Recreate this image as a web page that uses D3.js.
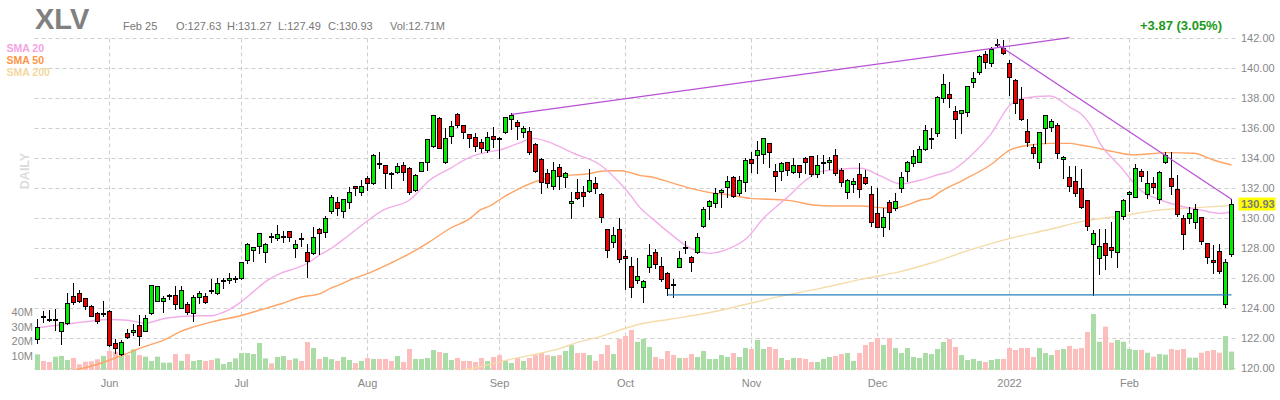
<!DOCTYPE html>
<html>
<head>
<meta charset="utf-8" />
<script src="https://cdn.jsdelivr.net/npm/d3@7"></script>
<style>
  body { margin: 0; background: #fff; }
  svg text { font-family: "Liberation Sans", Arial, sans-serif; }
</style>
</head>
<body>
<div id="chart"></div>
<script>
// XLV daily candles, 2021-05-13 .. 2022-02-25
const symbol = "XLV";
const firstDay = "2021-05-13";
const lastDay = "2022-02-25";
const holidays = ["2021-05-31", "2021-07-05", "2021-09-06", "2021-11-25", "2021-12-24", "2022-01-17", "2022-02-21"];

const opens = [
  121.93, 123.47, 123.27, 123.20, 122.47, 123.00, 124.80, 125.00, 124.67, 124.12,
  123.69, 123.58, 123.80, 121.70, 120.97, 122.34, 122.39, 122.87, 122.47, 123.67,
  124.51, 124.45, 124.76, 124.89, 124.03, 124.29, 123.66, 124.77, 124.81, 125.19,
  125.04, 125.80, 125.88, 125.90, 125.99, 127.21, 127.88, 128.16, 127.76, 128.74,
  128.65, 128.74, 129.14, 127.99, 128.60, 127.72, 127.65, 129.29, 129.09, 130.49,
  131.09, 130.45, 131.05, 132.11, 131.76, 132.64, 132.36, 133.64, 133.53, 132.97,
  133.09, 133.53, 133.31, 131.87, 133.16, 133.71, 134.82, 136.64, 133.75, 135.46,
  136.90, 136.17, 135.57, 135.37, 135.08, 134.53, 135.46, 135.28, 135.75, 136.57,
  136.37, 135.75, 135.79, 134.93, 133.90, 132.98, 132.13, 133.37, 132.71, 130.98,
  131.71, 131.71, 131.82, 132.31, 131.58, 129.25, 128.39, 129.25, 127.48, 126.81,
  125.88, 125.39, 126.72, 127.72, 126.81, 126.32, 125.57, 126.77, 128.01, 127.43,
  127.72, 129.49, 130.82, 130.98, 131.71, 132.09, 132.71, 131.65, 132.38, 133.91,
  134.20, 134.26, 134.97, 133.13, 133.13, 133.71, 133.09, 133.53, 133.97, 134.13,
  132.91, 133.67, 133.75, 134.20, 133.20, 131.76, 132.24, 132.93, 132.71, 131.60,
  130.31, 129.43, 131.05, 130.69, 131.98, 133.15, 133.64, 133.75, 134.57, 135.26,
  135.64, 138.01, 138.23, 137.12, 136.97, 137.08, 139.07, 139.74, 140.89, 140.29,
  141.47, 141.34, 140.29, 139.19, 137.92, 135.79, 134.75, 133.70, 135.97, 136.04,
  136.19, 133.91, 132.75, 132.47, 131.98, 131.20, 128.25, 127.32, 128.36, 128.10,
  127.72, 130.16, 131.58, 131.42, 133.15, 131.60, 132.31, 131.27, 133.75, 132.64,
  131.91, 129.98, 129.98, 129.72, 130.05, 128.32, 127.21, 127.81, 124.26, 127.63
];
const highs = [
  123.26, 123.78, 123.89, 123.92, 123.10, 125.00, 125.69, 125.18, 124.70, 124.20,
  123.75, 124.51, 123.85, 121.96, 121.90, 122.63, 122.92, 123.56, 123.52, 125.56,
  125.50, 124.80, 124.96, 125.45, 125.45, 124.40, 124.88, 125.17, 124.99, 125.92,
  125.99, 125.99, 126.32, 126.14, 127.10, 128.32, 128.10, 128.98, 128.32, 129.03,
  129.54, 129.14, 129.16, 128.54, 128.98, 128.25, 129.43, 129.31, 130.14, 131.53,
  131.42, 131.27, 132.04, 132.13, 132.53, 132.80, 134.24, 134.42, 133.55, 133.09,
  133.69, 133.75, 133.42, 132.93, 133.75, 135.26, 136.88, 136.70, 135.97, 136.46,
  137.01, 136.20, 135.60, 135.64, 135.24, 135.75, 136.04, 135.37, 136.72, 136.97,
  136.52, 136.13, 136.04, 134.97, 133.97, 133.24, 133.75, 133.60, 133.09, 131.76,
  132.60, 132.13, 133.24, 132.71, 131.64, 129.25, 129.38, 129.98, 127.87, 127.39,
  127.32, 125.88, 128.27, 127.94, 127.43, 126.39, 125.92, 127.81, 128.47, 127.45,
  128.98, 130.71, 131.20, 131.98, 131.93, 132.80, 132.80, 132.80, 134.02, 134.42,
  135.13, 135.32, 135.01, 133.60, 133.75, 133.75, 133.97, 133.55, 134.04, 134.15,
  134.20, 134.20, 134.08, 134.59, 133.31, 132.58, 132.64, 133.69, 133.20, 132.15,
  131.98, 130.65, 131.20, 131.65, 133.09, 133.82, 134.53, 134.79, 136.19, 136.00,
  138.12, 139.58, 139.03, 137.46, 137.19, 138.80, 139.70, 140.85, 141.11, 141.40,
  141.89, 141.85, 140.52, 139.23, 138.70, 136.59, 134.93, 135.72, 136.85, 136.59,
  136.30, 134.13, 133.46, 133.49, 133.26, 131.22, 129.21, 129.25, 129.25, 129.76,
  130.48, 131.27, 131.80, 133.60, 133.26, 133.15, 132.71, 133.15, 134.37, 134.42,
  132.86, 130.20, 130.76, 130.91, 130.09, 128.34, 128.21, 128.25, 127.27, 131.27
];
const lows = [
  121.70, 123.05, 123.16, 122.52, 121.59, 122.95, 124.29, 124.40, 123.96, 123.45,
  123.03, 123.47, 121.50, 121.03, 120.86, 122.03, 122.19, 121.57, 122.45, 123.63,
  124.50, 123.74, 124.63, 123.92, 124.00, 123.63, 123.17, 124.37, 124.37, 125.04,
  124.95, 125.37, 125.70, 125.77, 125.92, 126.99, 127.16, 127.70, 127.10, 128.43,
  128.54, 128.43, 128.50, 127.43, 128.14, 126.10, 127.63, 127.59, 128.76, 130.36,
  130.20, 130.09, 130.69, 131.53, 131.53, 131.87, 132.27, 133.35, 131.98, 131.98,
  132.98, 132.53, 131.60, 131.82, 133.14, 133.20, 134.71, 134.64, 133.69, 134.97,
  136.08, 135.30, 134.75, 134.48, 134.37, 134.42, 134.75, 133.97, 135.64, 135.90,
  135.24, 135.42, 134.26, 133.09, 131.69, 132.09, 131.91, 131.91, 132.04, 129.98,
  131.27, 130.80, 131.76, 131.69, 129.76, 127.39, 128.10, 127.10, 125.26, 124.73,
  125.66, 124.44, 126.43, 126.65, 125.83, 124.88, 124.72, 126.75, 127.70, 126.50,
  127.70, 129.38, 129.92, 130.76, 130.71, 131.38, 131.38, 131.53, 131.82, 133.04,
  132.97, 133.69, 133.42, 131.82, 132.53, 132.86, 133.02, 132.75, 133.02, 132.82,
  132.71, 133.02, 133.24, 132.86, 132.15, 131.36, 131.76, 131.42, 132.24, 129.49,
  129.43, 128.83, 129.27, 130.54, 131.76, 132.47, 133.49, 133.71, 134.53, 134.64,
  135.48, 137.74, 137.41, 135.35, 135.68, 136.79, 138.70, 139.58, 139.96, 140.14,
  141.36, 140.89, 138.19, 137.01, 136.50, 134.82, 134.02, 133.35, 135.01, 135.81,
  134.02, 132.64, 131.82, 131.49, 130.69, 129.21, 124.88, 126.26, 126.59, 127.43,
  126.77, 129.92, 130.49, 131.40, 132.49, 131.31, 131.64, 130.98, 133.64, 131.60,
  130.14, 127.92, 129.65, 129.36, 128.25, 127.03, 126.32, 126.37, 124.06, 127.49
];
const closes = [
  122.77, 123.42, 123.22, 123.25, 123.07, 124.34, 124.40, 124.47, 124.12, 123.47,
  123.12, 123.62, 121.57, 121.34, 121.74, 122.05, 122.56, 122.18, 123.36, 125.51,
  125.47, 124.69, 124.80, 124.25, 125.22, 123.74, 124.73, 124.99, 124.44, 125.15,
  125.66, 125.86, 125.99, 125.94, 127.05, 128.25, 128.10, 128.98, 128.25, 128.70,
  128.92, 128.78, 128.72, 128.25, 128.56, 127.16, 128.76, 128.98, 129.98, 131.42,
  130.65, 131.25, 131.71, 131.98, 132.11, 132.31, 134.20, 133.60, 133.02, 132.93,
  133.46, 133.09, 131.76, 132.87, 133.71, 135.24, 136.86, 134.68, 135.30, 136.13,
  136.17, 135.70, 135.30, 134.80, 134.64, 135.37, 135.24, 135.24, 136.70, 136.86,
  136.10, 135.97, 134.37, 133.15, 132.42, 132.31, 133.20, 132.82, 132.98, 131.11,
  131.31, 131.49, 132.53, 131.98, 130.05, 127.87, 128.87, 127.26, 127.32, 125.39,
  126.14, 125.83, 127.54, 126.94, 125.92, 125.32, 125.53, 127.32, 127.97, 127.05,
  128.72, 130.58, 131.13, 131.65, 131.87, 132.47, 131.47, 132.53, 133.86, 133.64,
  134.53, 135.30, 134.37, 132.82, 133.64, 133.20, 133.53, 133.09, 133.75, 132.93,
  133.53, 133.71, 133.86, 132.98, 132.38, 132.53, 132.47, 131.91, 132.35, 129.72,
  129.43, 130.09, 130.38, 131.13, 132.75, 133.75, 134.13, 134.57, 135.86, 135.30,
  138.08, 138.90, 137.97, 136.57, 137.17, 138.79, 139.30, 140.78, 140.36, 141.25,
  141.51, 140.96, 139.41, 137.63, 136.59, 135.04, 134.31, 135.70, 136.83, 136.46,
  134.31, 134.04, 132.15, 131.64, 130.76, 129.45, 128.98, 128.16, 127.54, 127.87,
  130.47, 131.18, 131.71, 133.31, 132.80, 132.31, 132.04, 133.09, 134.20, 132.13,
  130.27, 128.92, 130.31, 130.60, 128.47, 127.43, 127.05, 126.50, 127.06, 130.93
];
// volume in millions of shares
const volumes = [
  10.8, 6.2, 5.5, 9.2, 9.7, 6.9, 8.3, 3.9, 5.7, 6.0,
  7.4, 9.7, 13.3, 12.6, 13.3, 10.3, 14.3, 10.3, 9.2, 6.2,
  9.2, 5.1, 5.1, 11.0, 6.3, 11.0, 6.2, 6.9, 6.2, 6.9,
  8.0, 4.1, 5.5, 8.0, 11.7, 11.7, 11.0, 18.6, 8.0, 4.6,
  9.0, 9.7, 6.9, 8.0, 6.2, 19.3, 15.2, 7.6, 9.0, 7.5,
  6.2, 9.0, 6.9, 4.8, 6.2, 8.3, 7.6, 7.6, 7.6, 6.2,
  9.7, 5.5, 14.5, 7.6, 7.6, 8.3, 13.8, 12.4, 11.7, 6.9,
  8.3, 6.2, 6.2, 5.5, 8.3, 6.2, 9.0, 10.3, 6.2, 4.8,
  8.3, 6.2, 8.3, 10.3, 11.7, 10.3, 9.7, 10.3, 13.1, 17.2,
  11.7, 11.7, 10.3, 6.2, 11.0, 17.2, 11.0, 21.4, 23.4, 27.6,
  19.4, 21.4, 15.9, 9.0, 7.6, 13.1, 10.3, 8.3, 8.3, 11.0,
  9.0, 13.1, 7.6, 7.6, 10.3, 9.0, 11.7, 9.0, 15.2, 14.5,
  20.7, 14.5, 15.9, 14.5, 8.3, 6.9, 8.3, 8.3, 7.6, 5.5,
  5.5, 7.6, 9.0, 9.7, 11.0, 11.7, 6.2, 11.7, 17.2, 19.3,
  22.1, 17.2, 22.1, 15.2, 11.7, 15.2, 9.0, 8.3, 11.7, 11.0,
  14.5, 19.3, 21.4, 15.9, 10.3, 6.9, 7.6, 6.2, 5.5, 6.9,
  7.6, 7.6, 15.2, 13.8, 15.2, 15.2, 9.0, 15.2, 11.7, 10.3,
  13.8, 14.5, 16.6, 14.5, 15.1, 26.3, 38.6, 19.5, 29.9, 18.9,
  20.7, 19.5, 14.5, 13.8, 13.8, 11.9, 9.2, 11.0, 10.6, 14.5,
  13.8, 14.5, 8.5, 8.5, 11.9, 13.1, 13.8, 11.9, 23.4, 12.71
];

// moving averages: [candle index, value]
const sma20 = [
  [0, 122.7], [4, 122.9], [8, 123.1], [12, 123.25], [15, 123.2], [18, 123.0], [21, 123.3],
  [24, 123.45], [27, 123.5], [29, 123.5], [31, 123.73], [34, 124.44], [36, 125.1],
  [38, 125.77], [40.5, 126.32], [43, 126.65], [45, 126.99], [47, 127.54], [49, 127.99],
  [51, 128.58], [53, 129.2], [57.7, 130.54], [62, 131.2], [65.4, 132.53], [68.8, 133.31],
  [72, 134.04], [75.4, 134.42], [77, 134.53], [80, 134.95], [82.7, 135.3], [85, 135.08],
  [89.3, 134.31], [93.8, 133.53], [97.1, 132.31], [98.8, 131.53], [100.5, 130.65],
  [102.1, 130.09], [105.4, 128.98], [108.8, 127.99], [112.1, 127.65], [115.4, 127.99],
  [118.2, 128.65], [121, 129.98], [123.8, 130.98], [125.4, 131.53], [127.1, 132.2],
  [130.5, 133.09], [133.3, 133.24], [137.2, 133.31], [140.5, 132.8], [143.8, 132.27],
  [147.2, 132.53], [150.5, 132.93], [152.1, 133.09], [155.4, 134.08], [158.8, 135.53],
  [162.1, 137.52], [164.3, 137.97], [168.8, 138.12], [172.1, 137.37], [173.8, 136.97],
  [175.5, 136.19], [177.1, 134.97], [180.5, 133.42], [183.8, 131.87], [187.2, 131.2],
  [190.5, 130.8], [193.8, 130.54], [197.2, 130.31], [199, 130.42]
];
const sma50 = [
  [6.5, 119.9], [10.3, 120.3], [14.3, 120.9], [17.6, 121.41], [21.5, 121.96], [23.8, 122.44],
  [25.9, 122.74], [29.3, 123.11], [33.8, 123.5], [37.1, 123.88], [40.5, 124.28],
  [43.8, 124.73], [47.2, 124.99], [48.8, 125.32], [50.5, 125.59], [52.1, 125.88],
  [55.4, 126.37], [58.8, 126.99], [62.1, 127.65], [65.4, 128.43], [68.8, 129.32],
  [72.1, 129.98], [73.8, 130.54], [75.4, 130.8], [77.1, 131.25], [80.4, 131.98],
  [83.8, 132.53], [87.1, 132.8], [91.5, 132.93], [94.8, 133.15], [97.1, 133.15],
  [98.8, 133.02], [100.5, 132.82], [102.1, 132.75], [106, 132.31], [109.9, 131.87],
  [112.1, 131.69], [115.4, 131.53], [118.8, 131.31], [122.1, 131.25], [125.4, 131.16],
  [129.3, 130.87], [132.7, 130.8], [137.2, 130.8], [140.5, 130.69], [142.7, 130.65],
  [145, 130.87], [147.2, 131.2], [148.8, 131.31], [150.5, 131.76], [154.3, 132.53],
  [158.8, 133.53], [162.1, 134.53], [165.4, 134.86], [168.8, 134.97], [172.1, 134.97],
  [173.8, 134.86], [175.5, 134.75], [179.3, 134.42], [182.7, 134.2], [188.2, 134.35],
  [192.7, 134.31], [196, 133.86], [199, 133.53]
];
const sma200 = [
  [70, 119.8], [73.8, 120.1], [77.1, 120.44], [80.4, 120.73], [83.8, 121.0], [87.1, 121.33],
  [90.4, 121.77], [93.8, 122.11], [97.1, 122.55], [100.5, 122.95], [105.4, 123.26],
  [112.1, 123.71], [118.8, 124.33], [124, 124.8], [130.5, 125.32], [137.2, 125.92],
  [143.8, 126.43], [148.8, 126.99], [155.4, 127.88], [162.1, 128.65], [168.8, 129.25],
  [174, 129.76], [180.5, 130.14], [187.2, 130.54], [193.8, 130.71], [199, 130.83]
];

// drawn annotation lines: [candle index, price]
const resistanceUp = [[79, 136.9], [172, 142.0]];
const resistanceDown = [[160, 141.55], [199, 131.25]];
const supportLine = [[105, 124.88], [199, 124.88]];

const priceTicks = d3.range(120, 142.01, 2);
const volumeTicks = [10, 20, 30, 40];
const legendItems = [
  { label: "SMA 20", color: "#f5a3e3" },
  { label: "SMA 50", color: "#ff9548" },
  { label: "SMA 200", color: "#f3d8a0" },
];
const lineColors = { sma20: "#f2aee8", sma50: "#fea466", sma200: "#f5dcaa" };

function tradingDays(from, to, skip) {
  const out = [];
  const end = new Date(to + "T00:00:00Z");
  for (let d = new Date(from + "T00:00:00Z"); d <= end; d.setUTCDate(d.getUTCDate() + 1)) {
    const key = d.toISOString().slice(0, 10);
    const wd = d.getUTCDay();
    if (wd !== 0 && wd !== 6 && !skip.includes(key)) out.push(key);
  }
  return out;
}

const dates = tradingDays(firstDay, lastDay, holidays);
const candles = dates.map((d, i) => ({
  date: d,
  index: i,
  open: opens[i],
  high: highs[i],
  low: lows[i],
  close: closes[i],
  volume: volumes[i],
}));

class CandleChart {
  constructor(_config) {
    this.config = {
      parentElement: _config.parentElement,
      width: 1280,
      height: 400,
      left: 34.5,
      right: 1236,
      top: 37.7,
      priceBottom: 368.3,
      bottom: 370,
    };
    this.data = _config.data;
    this.initVis();
  }

  initVis() {
    const vis = this;
    const c = vis.config;

    vis.svg = d3
      .select(c.parentElement)
      .append("svg")
      .attr("width", c.width)
      .attr("height", c.height);

    vis.x = d3
      .scaleBand()
      .domain(dates)
      .range([c.left, c.left + 6 * dates.length]);
    const half = vis.x.bandwidth() / 2;
    // fractional candle index -> x, for the overlay lines
    vis.xi = d3
      .scaleLinear()
      .domain([0, dates.length - 1])
      .range([vis.x(dates[0]) + half, vis.x(dates[dates.length - 1]) + half]);

    vis.y = d3.scaleLinear().domain([120, 142]).range([c.priceBottom, c.top]);
    vis.yVol = d3.scaleLinear().domain([0, 40]).range([c.bottom, c.bottom - 58]);

    vis.svg
      .append("clipPath")
      .attr("id", "plot-clip")
      .append("rect")
      .attr("x", c.left)
      .attr("y", c.top - 1)
      .attr("width", c.right - c.left)
      .attr("height", c.bottom - c.top + 1);

    vis.gridG = vis.svg.append("g").attr("class", "grid");
    vis.volG = vis.svg.append("g").attr("class", "volume");
    vis.smaG = vis.svg.append("g").attr("clip-path", "url(#plot-clip)");
    vis.candleG = vis.svg.append("g").attr("class", "candles");
    vis.trendG = vis.svg.append("g").attr("clip-path", "url(#plot-clip)");
    vis.labelG = vis.svg.append("g");

    this.updateVis();
  }

  updateVis() {
    const vis = this;
    const c = vis.config;
    const half = vis.x.bandwidth() / 2;
    const cx = (d) => vis.x(d.date) + half;
    const snap = (v) => Math.round(v) + 0.5;

    // first trading day of each month
    const monthStarts = dates.filter(
      (d, i) => i > 0 && d.slice(5, 7) !== dates[i - 1].slice(5, 7)
    );
    const parse = d3.timeParse("%Y-%m-%d");
    const monthLabel = (d) => {
      const t = parse(d);
      return t.getMonth() === 0 ? d3.timeFormat("%Y")(t) : d3.timeFormat("%b")(t);
    };

    // grid
    vis.gridG
      .selectAll("line.h")
      .data(priceTicks)
      .join("line")
      .attr("class", "h")
      .attr("x1", c.left)
      .attr("x2", c.right)
      .attr("y1", (d) => snap(vis.y(d)))
      .attr("y2", (d) => snap(vis.y(d)));
    vis.gridG
      .selectAll("line.v")
      .data(monthStarts)
      .join("line")
      .attr("class", "v")
      .attr("x1", (d) => vis.x(d) + half)
      .attr("x2", (d) => vis.x(d) + half)
      .attr("y1", snap(c.top))
      .attr("y2", c.bottom);
    vis.gridG
      .selectAll("line")
      .attr("stroke", "#cfcfcf")
      .attr("stroke-width", 1)
      .attr("stroke-dasharray", "4,3");

    // volume bars
    vis.volG
      .selectAll("rect")
      .data(vis.data)
      .join("rect")
      .attr("x", (d) => cx(d) - 2.5)
      .attr("width", 5)
      .attr("y", (d) => vis.yVol(d.volume))
      .attr("height", (d) => c.bottom - vis.yVol(d.volume))
      .attr("fill", (d) => (d.close >= d.open ? "#aadca5" : "#fcbdbd"));

    // moving averages
    const smaLine = d3
      .line()
      .x((d) => vis.xi(d[0]))
      .y((d) => vis.y(d[1]))
      .curve(d3.curveMonotoneX);
    vis.smaG
      .selectAll("path")
      .data([
        { key: "sma200", pts: sma200 },
        { key: "sma50", pts: sma50 },
        { key: "sma20", pts: sma20 },
      ])
      .join("path")
      .attr("d", (d) => smaLine(d.pts))
      .attr("fill", "none")
      .attr("stroke", (d) => lineColors[d.key])
      .attr("stroke-width", 1.4);

    // candles
    const g = vis.candleG
      .selectAll("g.candle")
      .data(vis.data)
      .join("g")
      .attr("class", "candle");
    g.append("line")
      .attr("x1", cx)
      .attr("x2", cx)
      .attr("y1", (d) => Math.round(vis.y(d.high)))
      .attr("y2", (d) => Math.round(vis.y(d.low)) + 1)
      .attr("stroke", "#000")
      .attr("stroke-width", 1);
    g.each(function (d) {
      const top = snap(vis.y(Math.max(d.open, d.close)));
      const bot = snap(vis.y(Math.min(d.open, d.close)));
      const sel = d3.select(this);
      if (bot - top < 1.5) {
        // doji: flat black tick
        const yy = Math.round(vis.y((d.open + d.close) / 2));
        sel
          .append("line")
          .attr("x1", cx(d) - 2.5)
          .attr("x2", cx(d) + 2.5)
          .attr("y1", yy)
          .attr("y2", yy)
          .attr("stroke", "#000")
          .attr("stroke-width", 2);
      } else {
        sel
          .append("rect")
          .attr("x", cx(d) - 2)
          .attr("width", 4)
          .attr("y", top)
          .attr("height", bot - top)
          .attr("fill", d.close > d.open ? "#00ee00" : "#ee0000")
          .attr("stroke", "#000")
          .attr("stroke-width", 1);
      }
    });

    // trend lines
    const straight = d3
      .line()
      .x((d) => vis.xi(d[0]))
      .y((d) => vis.y(d[1]));
    vis.trendG
      .selectAll("path")
      .data([
        { pts: resistanceUp, color: "#b84fd6" },
        { pts: resistanceDown, color: "#b84fd6" },
        { pts: supportLine, color: "#2a82c0" },
      ])
      .join("path")
      .attr("d", (d) => straight(d.pts))
      .attr("fill", "none")
      .attr("stroke", (d) => d.color)
      .attr("stroke-width", 1.2);

    // axes
    const priceAxis = vis.svg
      .append("g")
      .attr("transform", `translate(1241,0)`)
      .call(
        d3
          .axisRight(vis.y)
          .tickValues(priceTicks)
          .tickFormat(d3.format(".2f"))
          .tickSize(0)
          .tickPadding(0)
      );
    const volAxis = vis.svg
      .append("g")
      .attr("transform", `translate(33,0)`)
      .call(
        d3
          .axisLeft(vis.yVol)
          .tickValues(volumeTicks)
          .tickFormat((d) => d + "M")
          .tickSize(0)
          .tickPadding(0)
      );
    const timeAxis = vis.svg
      .append("g")
      .attr("transform", `translate(0,${c.bottom})`)
      .call(
        d3
          .axisBottom(vis.x)
          .tickValues(monthStarts)
          .tickFormat(monthLabel)
          .tickSize(0)
          .tickPadding(9)
      );
    [priceAxis, volAxis, timeAxis].forEach((ax) => {
      ax.select(".domain").remove();
      ax.selectAll("text")
        .attr("fill", "#888")
        .style("font-size", "11px")
        .style("font-family", '"Liberation Sans", Arial, sans-serif');
    });

    // last price tag
    const last = vis.data[vis.data.length - 1];
    const ly = vis.y(last.close);
    vis.labelG
      .append("rect")
      .attr("x", 1238.5)
      .attr("y", ly - 6.5)
      .attr("width", 37)
      .attr("height", 13)
      .attr("fill", "#ffff00");
    vis.labelG
      .append("text")
      .attr("x", 1241)
      .attr("y", ly)
      .attr("dy", "0.35em")
      .attr("fill", "#7a7a7a")
      .style("font-size", "11px")
      .style("font-weight", "bold")
      .text(last.close.toFixed(2));

    // header
    const prev = vis.data[vis.data.length - 2];
    const change = last.close - prev.close;
    const pct = (change / prev.close) * 100;
    vis.labelG
      .append("text")
      .attr("x", 35)
      .attr("y", 28.5)
      .attr("fill", "#808080")
      .style("font-size", "29px")
      .style("font-weight", "bold")
      .text(symbol);
    const fmt = d3.format(".2f");
    const headerItems = [
      { x: 123, t: d3.timeFormat("%b %e")(parse(last.date)).replace("  ", " ") },
      { x: 176, t: `O:${fmt(last.open)}` },
      { x: 227, t: `H:${fmt(last.high)}` },
      { x: 278, t: `L:${fmt(last.low)}` },
      { x: 328, t: `C:${fmt(last.close)}` },
      { x: 390, t: `Vol:${fmt(last.volume)}M` },
    ];
    vis.labelG
      .selectAll("text.hdr")
      .data(headerItems)
      .join("text")
      .attr("class", "hdr")
      .attr("x", (d) => d.x)
      .attr("y", 30)
      .attr("fill", "#777")
      .style("font-size", "11px")
      .text((d) => d.t);
    vis.labelG
      .append("text")
      .attr("x", 1222)
      .attr("y", 30)
      .attr("text-anchor", "end")
      .attr("fill", "#1a9a1a")
      .style("font-size", "13px")
      .style("font-weight", "bold")
      .text(`${change >= 0 ? "+" : ""}${fmt(change)} (${fmt(pct)}%)`);

    // legend
    vis.labelG
      .selectAll("text.legend")
      .data(legendItems)
      .join("text")
      .attr("class", "legend")
      .attr("x", 6.5)
      .attr("y", (d, i) => 52.3 + i * 12)
      .attr("fill", (d) => d.color)
      .style("font-size", "10.5px")
      .style("font-weight", "bold")
      .text((d) => d.label);

    // period watermark
    vis.labelG
      .append("text")
      .attr("transform", "translate(28.5,171) rotate(-90)")
      .attr("text-anchor", "middle")
      .attr("fill", "#dcdcdc")
      .style("font-size", "12.5px")
      .style("font-weight", "bold")
      .text("DAILY");
  }
}

new CandleChart({ parentElement: "#chart", data: candles });
</script>
</body>
</html>
